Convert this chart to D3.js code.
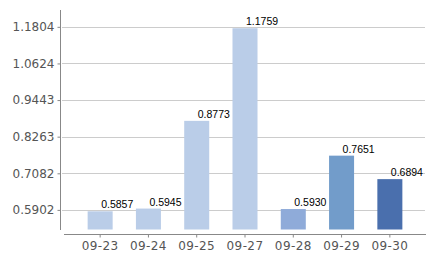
<!DOCTYPE html>
<html><head><meta charset="utf-8">
<script src="https://cdn.jsdelivr.net/npm/d3@7/dist/d3.min.js"></script>
<style>body{margin:0;background:#fff}svg{display:block}</style>
</head><body><svg id="c" width="438" height="260"></svg>
<script>
const categories = ["09-23","09-24","09-25","09-27","09-28","09-29","09-30"];
const values = [0.5857,0.5945,0.8773,1.1759,0.5930,0.7651,0.6894];
const barColors = ["#bacde8","#bacde8","#bacde8","#bacde8","#8fabd9","#729cca","#4a6fad"];
const yTicks = [0.5902,0.7082,0.8263,0.9443,1.0624,1.1804];
const yDomain = [0.527, 1.2347];

const svg = d3.select("#c");
const x = d3.scaleBand().domain(categories).range([76,414]).paddingInner(0.482).paddingOuter(0.241);
const y = d3.scaleLinear().domain(yDomain).range([229.5,10]);

// gridlines
svg.append("g").selectAll("line").data(yTicks).join("line")
  .attr("x1",62).attr("x2",425)
  .attr("y1",d=>Math.round(y(d))+0.5).attr("y2",d=>Math.round(y(d))+0.5)
  .attr("stroke","#cccccc").attr("stroke-width",1);

// y axis
const ya = svg.append("g").attr("transform","translate(60.5,0)")
  .call(d3.axisLeft(y).tickValues(yTicks).tickSize(3).tickSizeOuter(0).tickFormat(d3.format(".4f")));
ya.select(".domain").attr("stroke","#888").attr("d","M0,10V230");
ya.selectAll(".tick line").attr("stroke","#888");
ya.selectAll(".tick text").attr("fill","#555").attr("font-family","DejaVu Sans").attr("font-size",12).attr("x",-6);

// bars
svg.append("g").selectAll("rect").data(values).join("rect")
  .attr("x",(d,i)=>x(categories[i]))
  .attr("width",x.bandwidth())
  .attr("y",d=>y(d))
  .attr("height",d=>229.5-y(d))
  .attr("fill",(d,i)=>barColors[i]);

// value labels
svg.append("g").selectAll("text").data(values).join("text")
  .attr("x",(d,i)=>x(categories[i])+x.bandwidth()/2+1)
  .attr("y",d=>y(d)-3)
  .attr("font-family","Liberation Sans").attr("font-size",10.5).attr("fill","#000")
  .text(d=>d.toFixed(4));

// x axis
const xa = svg.append("g").attr("transform","translate(0,234.5)")
  .call(d3.axisBottom(x).tickSize(3).tickSizeOuter(0));
xa.select(".domain").attr("stroke","#888").attr("d","M64,0H426");
xa.selectAll(".tick line").attr("stroke","#888");
xa.selectAll(".tick text").attr("fill","#555").attr("font-family","DejaVu Sans").attr("font-size",12).attr("y",7).attr("letter-spacing","0.4px");
</script></body></html>
